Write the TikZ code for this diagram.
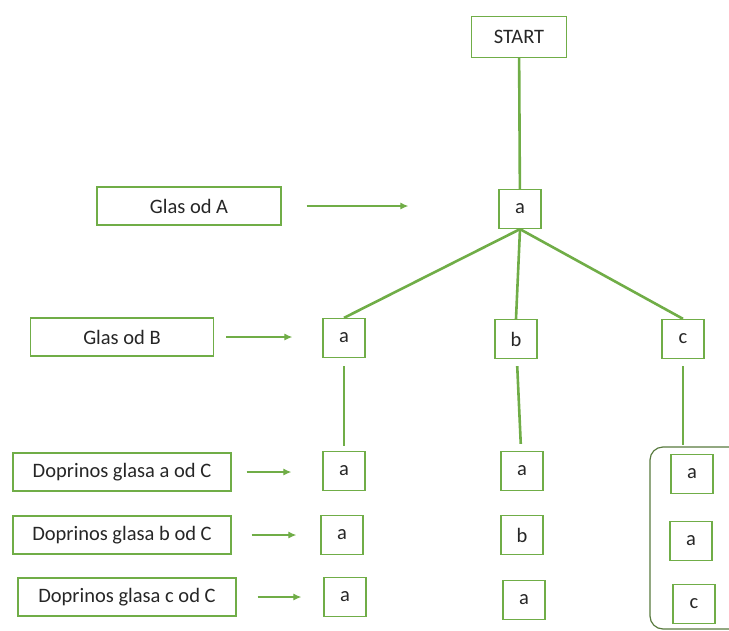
\documentclass[tikz,border=0pt]{standalone}
\usepackage{fontspec}
\setmainfont{Carlito}
\usetikzlibrary{arrows.meta}
\definecolor{boxgreen}{RGB}{112,173,71}
\definecolor{groupgreen}{RGB}{88,122,62}
\tikzset{
x=1pt, y=-1pt, % pixel-like coordinates, y runs down
every node/.style={font=\fontsize{20.5}{23}\selectfont, text=black!85},
box/.style={draw=boxgreen, line width=1.3pt, minimum height=38pt, inner sep=0pt}, % frames with a text
letter/.style={box, minimum width=42pt, minimum height=39pt}, % the small letter frames
branch/.style={draw=boxgreen, line width=2.6pt}, % lines of the tree
pointer/.style={draw=boxgreen, line width=1.2pt, -{Latex[length=8pt,width=7pt]}}, % arrows from the labels
group/.style={draw=groupgreen, line width=1.2pt, rounded corners=13pt, minimum width=110pt, minimum height=182pt},
}

\begin{document}
\begin{tikzpicture}
\useasboundingbox (0,0) rectangle (729,630);
\clip (0,0) rectangle (729,630);

% tree
\node[box, minimum width=95pt, minimum height=41pt] at (519,37) (start) {START};
\node[letter] at (520,209) (root) {a};
\node[letter] at (344,338) (a2) {a};
\node[letter] at (516,339) (b2) {b};
\node[letter] at (683,339) (c2) {c};

\node[letter] at (344,471) (a3) {a};
\node[letter] at (342,535) (a4) {a};
\node[letter] at (345,597) (a5) {a};
\node[letter] at (522,471) (b3) {a};
\node[letter] at (522,535) (b4) {b};
\node[letter] at (524,600) (b5) {a};
\node[group] at (705,538) (cgroup) {};
\node[letter] at (692,474) (c3) {a};
\node[letter] at (691,541) (c4) {a};
\node[letter] at (694,604) (c5) {c};

% labels on the left
\node[box, minimum width=184pt] at (189,206) (glasA) {Glas od A};
\node[box, minimum width=183pt] at (122,337) (glasB) {Glas od B};
\node[box, minimum width=218pt] at (122,472) (dopA) {Doprinos glasa a od C};
\node[box, minimum width=218pt] at (122,535) (dopB) {Doprinos glasa b od C};
\node[box, minimum width=218pt] at (127,597) (dopC) {Doprinos glasa c od C};

\draw[branch] (start) -- (root);
\draw[branch] (root.south) -- (a2.north);
\draw[branch] (root.south) -- (b2.north);
\draw[branch] (root.south) -- (c2.north);
\draw[branch, shorten <=8pt, shorten >=5pt] (a2) -- (a3);
\draw[branch, shorten <=7pt, shorten >=7pt] (b2) -- (b3);
\draw[branch, shorten <=7pt, shorten >=1pt] (c2.south) -- (c2.south |- cgroup.north);

\draw[pointer, shorten <=25pt, shorten >=90pt] (glasA.east) -- (root.west |- glasA.east);
\draw[pointer, shorten <=12pt, shorten >=30pt] (glasB.east) -- (a2.west |- glasB.east);
\draw[pointer, shorten <=15pt, shorten >=31pt] (dopA.east) -- (a3.west |- dopA.east);
\draw[pointer, shorten <=20pt, shorten >=24pt] (dopB.east) -- (a4.west |- dopB.east);
\draw[pointer, shorten <=21pt, shorten >=22pt] (dopC.east) -- (a5.west |- dopC.east);

\end{tikzpicture}
\end{document}
